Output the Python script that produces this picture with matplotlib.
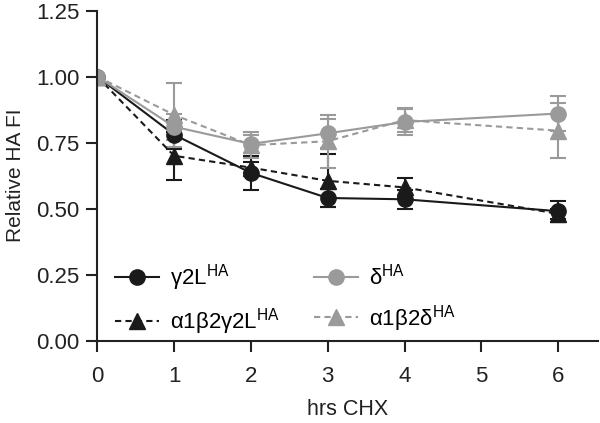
import numpy as np
import matplotlib
matplotlib.use("Agg")
import matplotlib.pyplot as plt
from matplotlib.lines import Line2D

plt.rcParams["font.family"] = ["Liberation Sans", "DejaVu Sans"]
plt.rcParams["mathtext.fontset"] = "custom"
plt.rcParams["mathtext.rm"] = "Liberation Sans"

hrs = [0, 1, 2, 3, 4, 6]

g2l = [1.00, 0.78, 0.635, 0.54, 0.535, 0.49]
g2l_err = [0.0, 0.055, 0.065, 0.035, 0.035, 0.04]

abg2l = [1.00, 0.70, 0.655, 0.605, 0.58, 0.48]
abg2l_err = [0.0, 0.09, 0.02, 0.10, 0.035, 0.02]

delta = [1.00, 0.81, 0.745, 0.785, 0.828, 0.86]
delta_err = [0.0, 0.05, 0.035, 0.055, 0.05, 0.068]

abdelta = [1.00, 0.855, 0.74, 0.755, 0.835, 0.795]
abdelta_err = [0.0, 0.12, 0.05, 0.10, 0.045, 0.105]

labels = [r"γ2L$^{\mathregular{HA}}$", r"α1β2γ2L$^{\mathregular{HA}}$",
          r"δ$^{\mathregular{HA}}$", r"α1β2δ$^{\mathregular{HA}}$"]

black = "#1a1a1a"
grey = "#9a9a9a"
dash = (0, (3, 2))

fig = plt.figure(figsize=(6, 4.23), dpi=100)
ax = fig.add_axes([0.162, 0.195, 0.835, 0.78])

common = dict(lw=1.5, ms=11, capsize=6, elinewidth=1.5, capthick=1.5)
ax.errorbar(hrs, g2l, yerr=g2l_err, color=black, marker="o", ls="-", **common)
ax.errorbar(hrs, abg2l, yerr=abg2l_err, color=black, marker="^", ls=dash, **common)
ax.errorbar(hrs, delta, yerr=delta_err, color=grey, marker="o", ls="-", **common)
ax.errorbar(hrs, abdelta, yerr=abdelta_err, color=grey, marker="^", ls=dash, **common)

ax.set_xlim(0, 6.52)
ax.set_ylim(0, 1.25)
ax.set_xticks([0, 1, 2, 3, 4, 5, 6])
ax.set_yticks([0, 0.25, 0.5, 0.75, 1.0, 1.25])
ax.set_yticklabels(["0.00", "0.25", "0.50", "0.75", "1.00", "1.25"])
ax.tick_params(direction="out", length=8, width=1.5, labelsize=16, colors="#222222")
ax.tick_params(axis="x", pad=10)
ax.tick_params(axis="y", pad=5)

for s in ["top", "right"]:
    ax.spines[s].set_visible(False)
for s in ["left", "bottom"]:
    ax.spines[s].set_linewidth(1.5)
    ax.spines[s].set_color("#222222")

ax.set_xlabel("hrs CHX", fontsize=15.5, color="#222222", labelpad=9)
ax.set_ylabel("Relative HA FI", fontsize=15, color="#222222", labelpad=8)

# legend: line + marker only, no error bars
handles = [
    Line2D([], [], color=black, marker="o", ls="-", lw=1.5, ms=11),
    Line2D([], [], color=black, marker="^", ls=dash, lw=1.5, ms=11),
    Line2D([], [], color=grey, marker="o", ls="-", lw=1.5, ms=11),
    Line2D([], [], color=grey, marker="^", ls=dash, lw=1.5, ms=11),
]
ax.legend(handles, labels, ncol=2, loc="lower left", bbox_to_anchor=(-0.005, -0.05),
          frameon=False, fontsize=16, handlelength=2.0, handletextpad=0.5,
          columnspacing=1.5, labelspacing=0.6)

fig.savefig("out.png", dpi=100)
